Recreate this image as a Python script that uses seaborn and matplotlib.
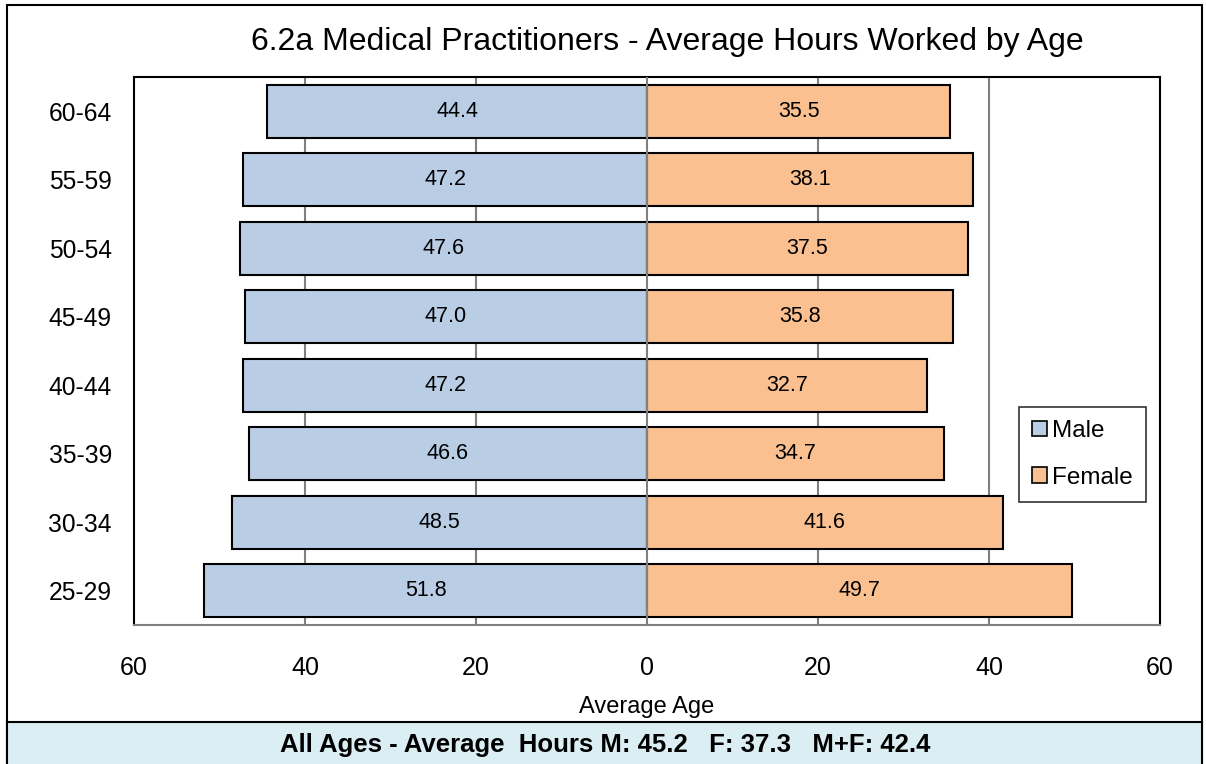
import matplotlib
matplotlib.use("Agg")
import matplotlib.pyplot as plt
from matplotlib.patches import Rectangle, Patch
import seaborn as sns
import pandas as pd

ages = ["60-64", "55-59", "50-54", "45-49", "40-44", "35-39", "30-34", "25-29"]
male = [44.4, 47.2, 47.6, 47.0, 47.2, 46.6, 48.5, 51.8]
female = [35.5, 38.1, 37.5, 35.8, 32.7, 34.7, 41.6, 49.7]
xticks = [-60, -40, -20, 0, 20, 40, 60]
title = "6.2a Medical Practitioners - Average Hours Worked by Age"
footer = "All Ages - Average  Hours M: 45.2   F: 37.3   M+F: 42.4"

male_col = "#B9CDE5"
female_col = "#FAC090"

sns.set_theme(style="white")
plt.rcParams["font.family"] = ["Liberation Sans", "DejaVu Sans"]
plt.rcParams["text.color"] = "black"
plt.rcParams["xtick.color"] = "black"
plt.rcParams["ytick.color"] = "black"
plt.rcParams["axes.labelcolor"] = "black"

df = pd.DataFrame({
    "age": ages * 2,
    "sex": ["Male"] * len(ages) + ["Female"] * len(ages),
    "value": [-v for v in male] + female,
})

fig = plt.figure(figsize=(12.06, 7.64), dpi=100)
ax = fig.add_axes([0.1111, 0.1819, 0.8507, 0.7173])

sns.barplot(data=df, y="age", x="value", hue="sex", order=ages,
            hue_order=["Male", "Female"],
            palette={"Male": male_col, "Female": female_col},
            saturation=1, dodge=False, width=0.78, edgecolor="black",
            linewidth=1.5, orient="h", legend=False, ax=ax, zorder=2)

for cont, vals in zip(ax.containers, [male, female]):
    ax.bar_label(cont, labels=[f"{v:.1f}" for v in vals], label_type="center",
                 fontsize=15.5, color="black")

ax.set_xlim(-60, 60)
ax.set_ylim(7.5, -0.5)
ax.set_xticks(xticks)
ax.set_xticklabels([str(abs(t)) for t in xticks], fontsize=18)
ax.tick_params(axis="x", length=0, pad=22)
ax.tick_params(axis="y", length=0, pad=16, labelsize=17.7)
ax.set_ylabel("")
ax.set_xlabel("Average Age", fontsize=17, labelpad=12)

for t in [-40, -20, 20, 40]:
    ax.axvline(t, color="#808080", lw=1.5, zorder=0)
ax.axvline(0, color="#808080", lw=1.5, zorder=3)

for s in ["left", "top", "right"]:
    ax.spines[s].set_color("black")
    ax.spines[s].set_linewidth(1.5)
ax.spines["bottom"].set_color("#808080")
ax.spines["bottom"].set_linewidth(1.5)

handles = [Patch(facecolor=male_col, edgecolor="black", linewidth=1.2, label="Male"),
           Patch(facecolor=female_col, edgecolor="black", linewidth=1.2, label="Female")]
leg = ax.legend(handles=handles, loc="upper left", bbox_to_anchor=(0.8626, 0.398),
                fontsize=17.5, handlelength=0.6, handleheight=0.6, handletextpad=0.2,
                labelspacing=1.0, borderpad=0.55, fancybox=False, frameon=True,
                borderaxespad=0)
leg.get_frame().set_edgecolor("black")
leg.get_frame().set_linewidth(1.2)

fig.text(0.553, 0.945, title, ha="center", va="center", fontsize=23)

# outer border and footer panel
fig.patches.append(Rectangle((7 / 1206, -0.01), 1195 / 1206, 1 - 5 / 764 + 0.01,
                             transform=fig.transFigure, fill=False,
                             edgecolor="black", lw=1.5, zorder=0))
fig.patches.append(Rectangle((7 / 1206, -0.01), 1195 / 1206, 1 - 722 / 764 + 0.01,
                             transform=fig.transFigure, facecolor="#DAEEF3",
                             edgecolor="black", lw=1.5, zorder=0))
fig.text(0.5016, 1 - 745 / 764, footer, ha="center", va="center",
         fontsize=18.5, fontweight="bold")

fig.savefig("out.png", dpi=100)
